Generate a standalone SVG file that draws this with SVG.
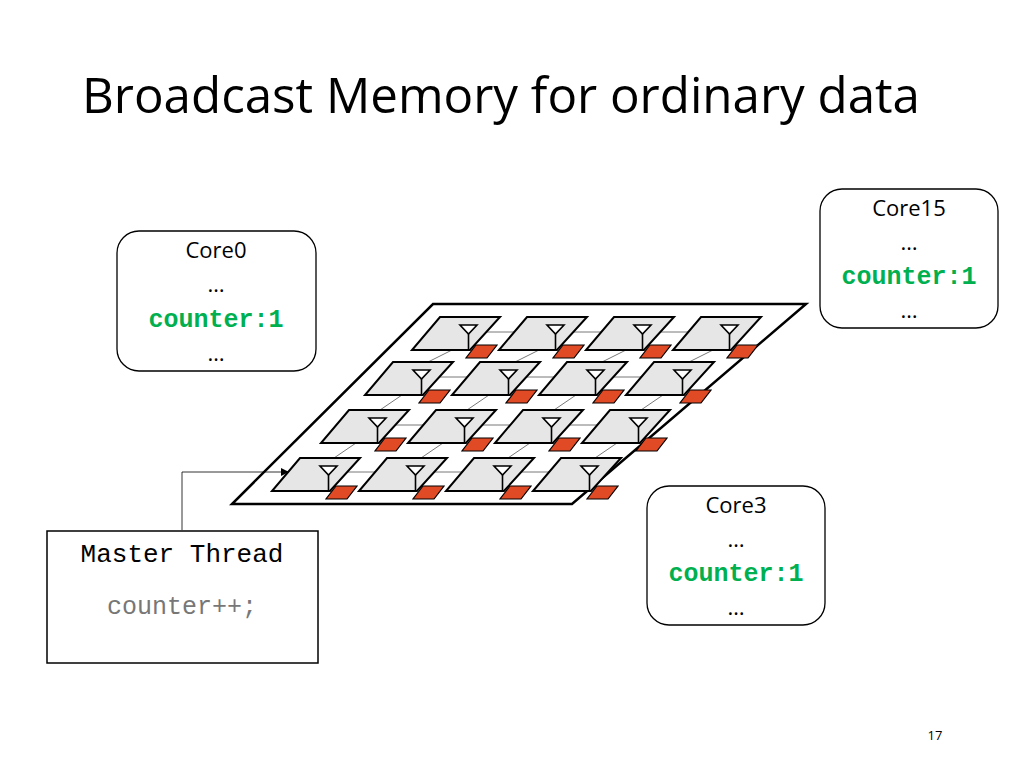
<svg xmlns="http://www.w3.org/2000/svg" width="1024" height="768" viewBox="0 0 1024 768">
<defs>
<style>
.t{font-family:"Open Sans","Liberation Sans",sans-serif;fill:#000}
.c{font-size:22px}
.m{font-family:"Liberation Mono","DejaVu Sans Mono",monospace}
.g{fill:#00b050;font-weight:bold}
.box{fill:#fff;stroke:#000;stroke-width:1.3}
.tile{fill:#e6e6e6;stroke:#000;stroke-width:2}
.red{fill:#e04a25;stroke:#000;stroke-width:1.2}
.ant{fill:#fff;stroke:#000;stroke-width:1.6}
.gl{stroke:#555;stroke-width:0.8}
</style>
<marker id="ah" markerWidth="8" markerHeight="8" refX="7" refY="4" orient="auto" markerUnits="userSpaceOnUse"><path d="M0,0L8,4L0,8Z" fill="#000"/></marker>
<g id="cell">
<polygon class="tile" points="0,0 60,0 30,33 -28,33"/>
<polygon class="ant" points="20,8 37,8 28.5,17"/>
<line x1="28.5" y1="17" x2="28.5" y2="33" stroke="#000" stroke-width="1.6"/>
<polygon class="red" points="36,28 57,28 47,41 26,41"/>
</g>
</defs>
<rect width="1024" height="768" fill="#fff"/>
<text class="t" x="82" y="113" font-size="49" textLength="838" lengthAdjust="spacingAndGlyphs">Broadcast Memory for ordinary data</text>
<g id="platform">
<polygon points="433,304 806,304 572,504 232,504" fill="#fff" stroke="#000" stroke-width="2.5"/>
<g class="gl">
<line x1="460" y1="332" x2="740" y2="332"/><line x1="410" y1="377" x2="690" y2="377"/>
<line x1="366" y1="425" x2="646" y2="425"/><line x1="318" y1="472" x2="598" y2="472"/>
<line x1="452" y1="350" x2="428" y2="362"/><line x1="539" y1="350" x2="515" y2="362"/><line x1="626" y1="350" x2="602" y2="362"/><line x1="713" y1="350" x2="689" y2="362"/>
<line x1="402" y1="395" x2="380" y2="410"/><line x1="489" y1="395" x2="467" y2="410"/><line x1="576" y1="395" x2="554" y2="410"/><line x1="663" y1="395" x2="641" y2="410"/>
<line x1="356" y1="443" x2="334" y2="458"/><line x1="443" y1="443" x2="421" y2="458"/><line x1="530" y1="443" x2="508" y2="458"/><line x1="617" y1="443" x2="595" y2="458"/>
</g>
<use href="#cell" x="440" y="317"/><use href="#cell" x="527" y="317"/><use href="#cell" x="614" y="317"/><use href="#cell" x="701" y="317"/>
<use href="#cell" x="393" y="362"/><use href="#cell" x="480" y="362"/><use href="#cell" x="567" y="362"/><use href="#cell" x="654" y="362"/>
<use href="#cell" x="349" y="410"/><use href="#cell" x="436" y="410"/><use href="#cell" x="523" y="410"/><use href="#cell" x="610" y="410"/>
<use href="#cell" x="300" y="458"/><use href="#cell" x="387" y="458"/><use href="#cell" x="474" y="458"/><use href="#cell" x="561" y="458"/>
</g>
<g id="connectors">
<polyline points="182,530 182,472 288,472" fill="none" stroke="#000" stroke-width="0.8" marker-end="url(#ah)"/>
</g>
<g id="core0">
<rect class="box" x="117" y="231" width="199" height="140" rx="22"/>
<text class="t c" x="216" y="258" text-anchor="middle">Core0</text>
<text class="t c" x="216" y="292" text-anchor="middle">…</text>
<text class="m g" x="216" y="327" font-size="25" text-anchor="middle">counter:1</text>
<text class="t c" x="216" y="361" text-anchor="middle">…</text>
</g>
<g id="core15">
<rect class="box" x="820" y="189" width="178" height="139" rx="22"/>
<text class="t c" x="909" y="216" text-anchor="middle">Core15</text>
<text class="t c" x="909" y="250" text-anchor="middle">…</text>
<text class="m g" x="909" y="284" font-size="25" text-anchor="middle">counter:1</text>
<text class="t c" x="909" y="318" text-anchor="middle">…</text>
</g>
<g id="core3">
<rect class="box" x="647" y="486" width="178" height="139" rx="22"/>
<text class="t c" x="736" y="513" text-anchor="middle">Core3</text>
<text class="t c" x="736" y="547" text-anchor="middle">…</text>
<text class="m g" x="736" y="581" font-size="25" text-anchor="middle">counter:1</text>
<text class="t c" x="736" y="615" text-anchor="middle">…</text>
</g>
<g id="master">
<rect x="47" y="531" width="271" height="132" fill="#fff" stroke="#000" stroke-width="1.5"/>
<text class="m" x="182" y="562" font-size="26" text-anchor="middle">Master Thread</text>
<text class="m" x="182" y="614" font-size="25" text-anchor="middle" fill="#777">counter++;</text>
</g>
<text class="t" x="935" y="740" font-size="13" text-anchor="middle" fill="#888">17</text>
</svg>
